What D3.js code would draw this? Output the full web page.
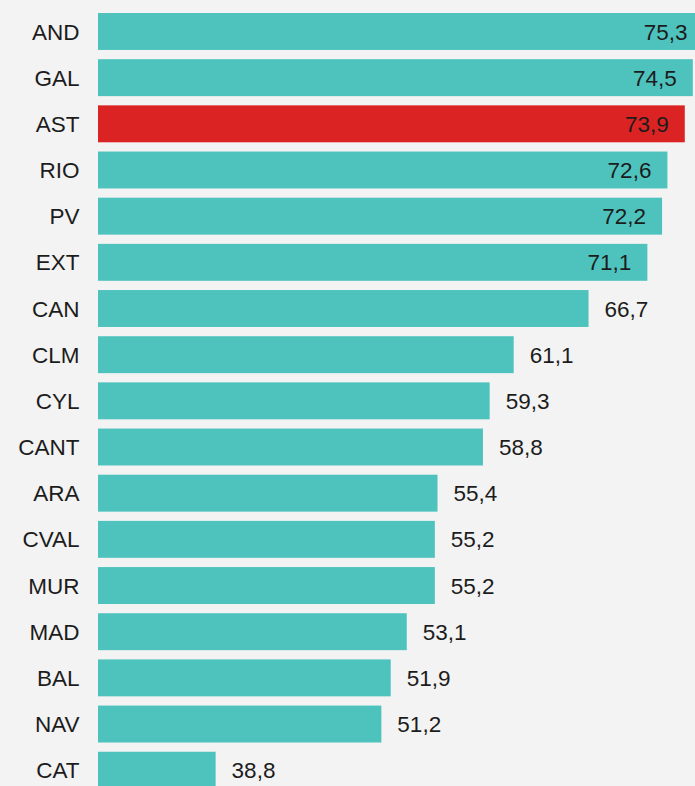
<!DOCTYPE html>
<html lang="es">
  <head>
    <meta charset="utf-8">
    <title>Comunidades</title>
    <style>
      html, body { margin: 0; padding: 0; background: #f3f3f3; overflow: hidden; }
      svg { display: block; font-family: "Liberation Sans", Arial, sans-serif; }
    </style>
  </head>
  <body>
    <svg class="chart"></svg>
    <script src="https://cdn.jsdelivr.net/npm/d3@7"></script>
    <script>
      const regions = ["AND", "GAL", "AST", "RIO", "PV", "EXT", "CAN", "CLM", "CYL",
                       "CANT", "ARA", "CVAL", "MUR", "MAD", "BAL", "NAV", "CAT"];
      const values = [75.3, 74.5, 73.9, 72.6, 72.2, 71.1, 66.7, 61.1, 59.3,
                      58.8, 55.4, 55.2, 55.2, 53.1, 51.9, 51.2, 38.8];
      const highlight = "AST";

      const width = 695, height = 786;
      const fmt = d3.formatLocale({decimal: ",", thousands: ".", grouping: [3], currency: ["", "€"]}).format(".1f");

      const svg = d3.select(".chart").attr("width", width).attr("height", height);

      svg.append("rect").attr("width", width).attr("height", height).attr("fill", "#f3f3f3");

      const x = d3.scaleLinear().domain([30, 75.3]).range([98, 703.5]);
      const y = d3.scaleBand().domain(regions).range([8.4, 8.4 + 46.17 * regions.length]).paddingInner(0.2).paddingOuter(0.1);

      const data = regions.map((r, i) => ({region: r, value: values[i]}));

      svg.append("g").selectAll("rect").data(data).enter()
        .append("rect")
        .attr("x", x(30))
        .attr("y", d => y(d.region))
        .attr("width", d => x(d.value) - x(30))
        .attr("height", y.bandwidth())
        .attr("fill", d => d.region === highlight ? "#dc2323" : "#4ec3be");

      // category labels
      svg.append("g").selectAll("text").data(data).enter()
        .append("text")
        .attr("x", 79.5)
        .attr("y", d => y(d.region) + y.bandwidth() / 2)
        .attr("dy", "0.36em")
        .attr("text-anchor", "end")
        .attr("font-size", 22.5)
        .attr("fill", "#1c1c1c")
        .text(d => d.region);

      // value labels: inside the bar when it would not fit outside
      const pad = 16;
      const labelW = 45;
      svg.append("g").selectAll("text").data(data).enter()
        .append("text")
        .attr("y", d => y(d.region) + y.bandwidth() / 2)
        .attr("dy", "0.36em")
        .attr("font-size", 22.5)
        .attr("fill", "#1c1c1c")
        .each(function(d) {
          const end = x(d.value);
          const inside = end + pad + labelW > width;
          d3.select(this)
            .attr("x", inside ? end - pad : end + pad)
            .attr("text-anchor", inside ? "end" : "start");
        })
        .text(d => fmt(d.value));
    </script>
  </body>
</html>
